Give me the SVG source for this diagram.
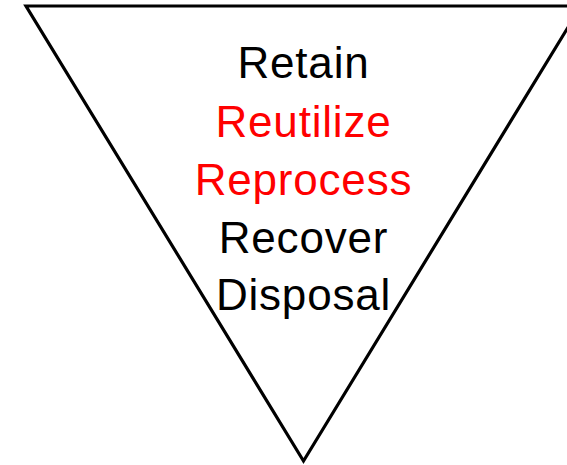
<svg xmlns="http://www.w3.org/2000/svg" width="567" height="465" viewBox="0 0 567 465">
<style>
.t{font-family:"Liberation Sans",Arial,sans-serif;font-size:44px;text-anchor:middle;letter-spacing:0.8px}
.k{fill:#000}
.r{fill:#ff0000}
</style>
<rect width="567" height="465" fill="#fff"/>
<g id="triangle">
<polygon points="26,6 581,6 303.5,461" fill="none" stroke="#000" stroke-width="3.2" stroke-linejoin="miter"/>
</g>
<g id="labels">
<text class="t k" x="303.5" y="78">Retain</text>
<text class="t r" x="303.5" y="137">Reutilize</text>
<text class="t r" x="303.5" y="195">Reprocess</text>
<text class="t k" x="303.5" y="253">Recover</text>
<text class="t k" x="303.5" y="310">Disposal</text>
</g>
</svg>
